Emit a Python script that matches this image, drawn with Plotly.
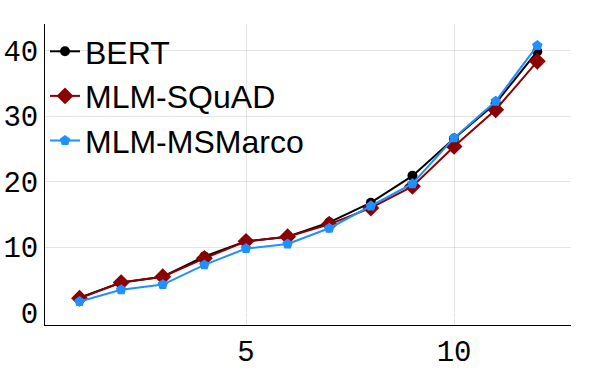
import plotly.graph_objects as go

# layer index on the x axis
layers = list(range(1, 13))

bert = [2.3, 4.6, 5.5, 8.6, 10.9, 11.6, 13.8, 16.8, 20.9, 26.6, 32.0, 39.9]
mlm_squad = [2.2, 4.6, 5.5, 8.3, 10.9, 11.6, 13.5, 16.0, 19.3, 25.4, 31.0, 38.4]
mlm_msmarco = [1.7, 3.5, 4.3, 7.3, 9.8, 10.5, 12.9, 16.3, 19.7, 26.7, 32.3, 40.8]

series = [
    ("BERT", bert, "black", "circle", 10),
    ("MLM-SQuAD", mlm_squad, "#8B0000", "diamond", 13),
    ("MLM-MSMarco", mlm_msmarco, "#1E90FF", "pentagon", 11),
]

fig = go.Figure()
for name, vals, color, symbol, size in series:
    fig.add_trace(go.Scatter(
        x=layers,
        y=vals,
        mode="lines+markers",
        name=name,
        line=dict(color=color, width=2),
        marker=dict(symbol=symbol, size=size, color=color, line=dict(width=0)),
    ))

axis_common = dict(
    showline=True,
    linecolor="black",
    linewidth=1,
    mirror=False,
    showgrid=True,
    gridcolor="rgba(0,0,0,0.1)",
    gridwidth=1,
    ticks="",
    automargin=False,
    tickfont=dict(family="Liberation Mono", size=29, color="black"),
)

fig.update_xaxes(range=[0.17, 12.81], tickvals=[5, 10], zeroline=False, **axis_common)
fig.update_yaxes(range=[-1.88, 44.1], tickvals=[0, 10, 20, 30, 40],
                 zeroline=True, zerolinecolor="white", zerolinewidth=1, **axis_common)

fig.update_layout(
    width=594,
    height=372,
    margin=dict(l=45, r=23, t=24, b=47, autoexpand=False),
    paper_bgcolor="white",
    plot_bgcolor="white",
    showlegend=True,
    legend=dict(
        x=0.0, y=1.0, xanchor="left", yanchor="top",
        bgcolor="rgba(255,255,255,0)",
        font=dict(family="Liberation Sans", size=32, color="black"),
        tracegroupgap=0,
    ),
)

# drop the default 8px body margin so the figure fills the window
fig.write_html("out.html", config={"displayModeBar": False},
               post_script="document.body.style.margin='0';")
